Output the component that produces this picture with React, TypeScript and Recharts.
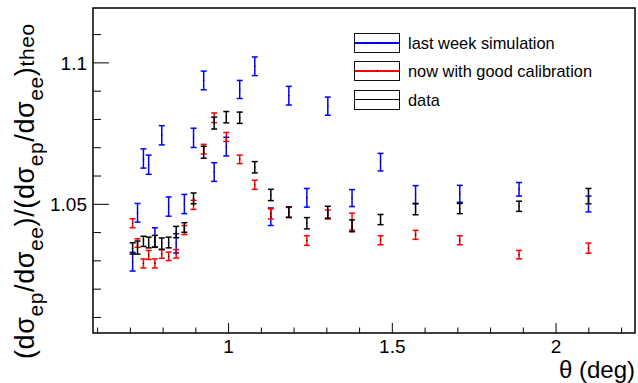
import React from "react";
import { ScatterChart, Scatter, XAxis, YAxis, ErrorBar, ReferenceArea } from "recharts";

const FONT = "'Liberation Sans', Arial, Helvetica, sans-serif";

// scattering angle in degrees, shared by all three series
const THETA = [
  0.707, 0.722, 0.74, 0.756, 0.775, 0.796, 0.817, 0.84, 0.865, 0.893, 0.924, 0.956, 0.993,
  1.034, 1.08, 1.129, 1.184, 1.239, 1.303, 1.377, 1.464, 1.571, 1.706, 1.887, 2.099,
];

const SIM_Y = [
  1.0297, 1.047, 1.0662, 1.064, 1.0383, 1.0744, 1.0492, 1.0362, 1.0501, 1.0735, 1.0938, 1.0614,
  1.0704, 1.0906, 1.0988, 1.0456, 1.0884, 1.0523, 1.0847, 1.0522, 1.0649, 1.0534, 1.0537, 1.0553,
  1.0501,
];
const SIM_ERR = [
  0.0033, 0.0033, 0.0034, 0.0034, 0.0034, 0.0034, 0.0034, 0.0034, 0.0034, 0.0034, 0.0033, 0.0033,
  0.0033, 0.0032, 0.0033, 0.0031, 0.0033, 0.0033, 0.0032, 0.003, 0.0031, 0.0032, 0.003, 0.0024,
  0.0028,
];

const CAL_Y = [
  1.0433, 1.0363, 1.0291, 1.0321, 1.0291, 1.0324, 1.0316, 1.0325, 1.0409, 1.0498, 1.0695, 1.0806,
  1.0738, 1.0659, 1.0569, 1.0466, 1.0472, 1.0372, 1.0464, 1.0439, 1.0373, 1.0392, 1.0373, 1.0322,
  1.0345,
];
const CAL_ERR = [
  0.0016, 0.0015, 0.0016, 0.0016, 0.0016, 0.0015, 0.0015, 0.0015, 0.0016, 0.0016, 0.0017, 0.0017,
  0.0016, 0.0015, 0.0016, 0.0018, 0.0017, 0.0017, 0.0016, 0.003, 0.0016, 0.0016, 0.0016, 0.0015,
  0.0018,
];

const DATA_Y = [
  1.0344, 1.0347, 1.0369, 1.0365, 1.0369, 1.0361, 1.0365, 1.0402, 1.0418, 1.0521, 1.0684, 1.0787,
  1.0808, 1.0806, 1.0631, 1.0533, 1.0472, 1.0433, 1.0472, 1.0424, 1.0446, 1.0483, 1.0485, 1.0493,
  1.0529,
];
const DATA_ERR = [
  0.002, 0.0023, 0.0018, 0.0019, 0.0021, 0.002, 0.0019, 0.002, 0.0017, 0.0019, 0.0021, 0.0021,
  0.002, 0.002, 0.002, 0.002, 0.0019, 0.002, 0.0021, 0.0021, 0.0018, 0.002, 0.0018, 0.0018,
  0.0027,
];

const SERIES_NAMES = ["last week simulation", "now with good calibration", "data"];
const SERIES_COLORS = ["#0000ff", "#ff0000", "#000000"];

const X_DOMAIN = [0.586, 2.241];
const Y_DOMAIN = [1.0045, 1.1194];
const X_TICKS = [0.6, 0.7, 0.8, 0.9, 1, 1.1, 1.2, 1.3, 1.4, 1.5, 1.6, 1.7, 1.8, 1.9, 2, 2.1, 2.2];
const X_MAJOR = [1, 1.5, 2];
const X_MAJOR_TEXT = ["1", "1.5", "2"];
const Y_TICKS = [1.01, 1.02, 1.03, 1.04, 1.05, 1.06, 1.07, 1.08, 1.09, 1.1, 1.11];
const Y_MAJOR = [1.05, 1.1];
const Y_MAJOR_TEXT = ["1.05", "1.1"];

const toPoints = (ys: number[], errs: number[]) =>
  THETA.map((x, i) => ({ x, y: ys[i], err: errs[i] }));

const seriesData = [toPoints(SIM_Y, SIM_ERR), toPoints(CAL_Y, CAL_ERR), toPoints(DATA_Y, DATA_ERR)];

const majorIndex = (list: number[], v: number) => list.findIndex((m) => Math.abs(m - v) < 1e-6);

function XTick(props: any) {
  const { x, y, payload } = props;
  const idx = majorIndex(X_MAJOR, payload.value);
  return (
    <g>
      <line x1={x} x2={x} y1={y} y2={y - (idx >= 0 ? 10 : 5.5)} stroke="#000" strokeWidth={1} />
      {idx >= 0 && (
        <text x={x} y={y + 20} textAnchor="middle" fontSize={19} fontFamily={FONT} fill="#000">
          {X_MAJOR_TEXT[idx]}
        </text>
      )}
    </g>
  );
}

function YTick(props: any) {
  const { x, y, payload } = props;
  const idx = majorIndex(Y_MAJOR, payload.value);
  return (
    <g>
      <line x1={x} x2={x + (idx >= 0 ? 16 : 8)} y1={y} y2={y} stroke="#000" strokeWidth={1} />
      {idx >= 0 && (
        <text x={x - 6} y={y} dy="0.36em" textAnchor="end" fontSize={19} fontFamily={FONT} fill="#000">
          {Y_MAJOR_TEXT[idx]}
        </text>
      )}
    </g>
  );
}

const renderXTitle = () => (
  <text x={635} y={378} textAnchor="end" fontSize={24} fontFamily={FONT} fill="#000">
    θ (deg)
  </text>
);

const renderYTitle = () => (
  <text
    transform="translate(33.5,359) rotate(-90)"
    fontSize={27}
    fontFamily={FONT}
    fill="#000"
    letterSpacing={0.6}
  >
    (dσ
    <tspan dy={9} fontSize={21}>ep</tspan>
    <tspan dy={-9}>/dσ</tspan>
    <tspan dy={9} fontSize={21}>ee</tspan>
    <tspan dy={-9}>)/(dσ</tspan>
    <tspan dy={9} fontSize={21}>ep</tspan>
    <tspan dy={-9}>/dσ</tspan>
    <tspan dy={9} fontSize={21}>ee</tspan>
    <tspan dy={-9}>)</tspan>
    <tspan fontSize={21}>theo</tspan>
  </text>
);

const dot = (props: any) => (
  <rect x={props.cx - 0.6} y={props.cy - 0.6} width={1.2} height={1.2} fill="#000" />
);

function Legend() {
  return (
    <>
      {SERIES_NAMES.map((name, i) => {
        const top = 33 + i * 28.4;
        return (
          <React.Fragment key={name}>
            <div
              style={{
                position: "absolute",
                left: 354,
                top,
                width: 46,
                height: 20,
                border: "1.4px solid #111",
                boxSizing: "border-box",
              }}
            >
              <div
                style={{
                  position: "absolute",
                  left: 0,
                  right: 0,
                  top: 8,
                  height: 1.5,
                  background: SERIES_COLORS[i],
                }}
              />
              <div
                style={{ position: "absolute", left: 21.5, top: 8, width: 1.5, height: 1.5, background: "#000" }}
              />
            </div>
            <div
              style={{
                position: "absolute",
                left: 408,
                top,
                height: 20,
                lineHeight: "20px",
                fontSize: 16.4,
                fontFamily: FONT,
                color: "#000",
                whiteSpace: "nowrap",
              }}
            >
              {name}
            </div>
          </React.Fragment>
        );
      })}
    </>
  );
}

export default function App() {
  return (
    <div style={{ position: "absolute", left: 0, top: 0, width: 638, height: 383, background: "#fff" }}>
      <ScatterChart width={638} height={383} margin={{ top: 8, right: 3, bottom: 0, left: 0 }}>
        <XAxis
          type="number"
          dataKey="x"
          domain={X_DOMAIN}
          allowDataOverflow
          ticks={X_TICKS}
          interval={0}
          height={50}
          axisLine={false}
          tickLine={false}
          tickSize={0}
          tickMargin={0}
          tick={XTick}
          label={renderXTitle}
        />
        <YAxis
          type="number"
          dataKey="y"
          domain={Y_DOMAIN}
          allowDataOverflow
          ticks={Y_TICKS}
          interval={0}
          width={93}
          axisLine={false}
          tickLine={false}
          tickSize={0}
          tickMargin={0}
          tick={YTick}
          label={renderYTitle}
        />
        <ReferenceArea
          x1={X_DOMAIN[0]}
          x2={X_DOMAIN[1]}
          y1={Y_DOMAIN[0]}
          y2={Y_DOMAIN[1]}
          fill="none"
          fillOpacity={0}
          stroke="#000"
          strokeWidth={1.5}
        />
        {seriesData.map((pts, i) => (
          <Scatter
            key={SERIES_NAMES[i]}
            name={SERIES_NAMES[i]}
            data={pts}
            shape={dot}
            isAnimationActive={false}
          >
            <ErrorBar
              dataKey="err"
              direction="y"
              width={3}
              stroke={SERIES_COLORS[i]}
              strokeWidth={1.5}
              isAnimationActive={false}
            />
          </Scatter>
        ))}
      </ScatterChart>
      <Legend />
    </div>
  );
}
